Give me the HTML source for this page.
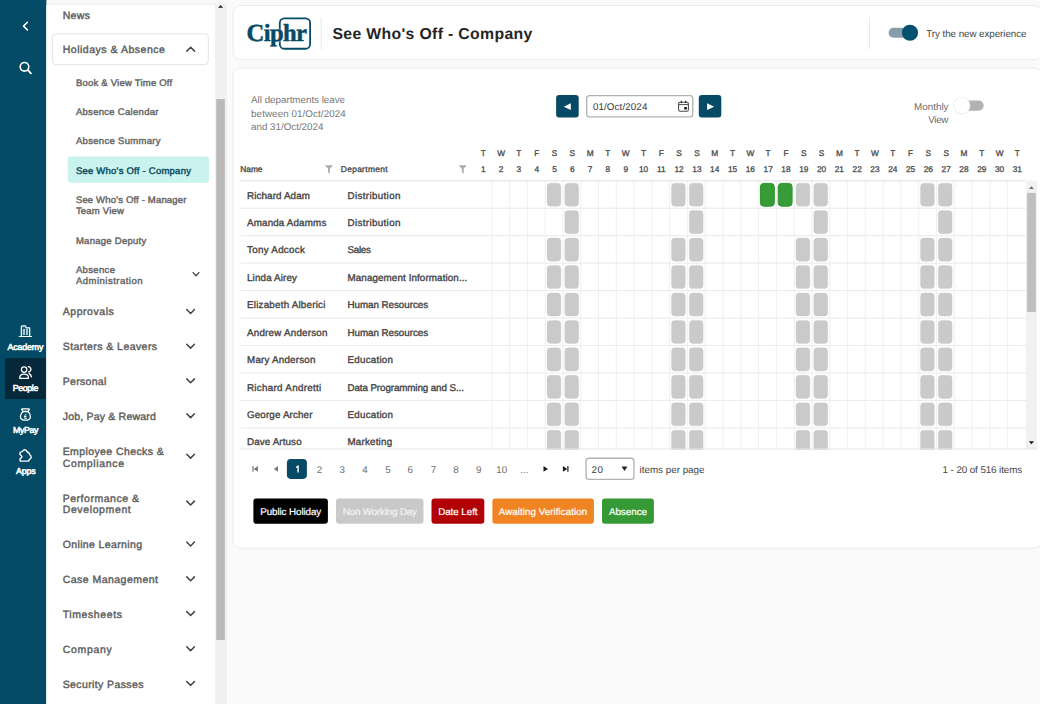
<!DOCTYPE html>
<html><head><meta charset="utf-8"><title>See Who's Off - Company</title>
<style>
*{box-sizing:border-box;margin:0;padding:0}
html,body{width:1040px;height:704px;overflow:hidden;background:#fafafa;font-family:"Liberation Sans",sans-serif;text-rendering:geometricPrecision}
div,svg{position:absolute}
.t{white-space:nowrap;line-height:1}
.b{font-weight:bold}
</style></head><body>
<svg style="left:0;top:0" width="1040" height="704" viewBox="0 0 1040 704">
<rect x="46.35" y="0.00" width="180.65" height="3.60" rx="0" fill="#f8f9fa"/>
<rect x="46.35" y="3.60" width="180.65" height="1.40" rx="0" fill="#f1f1f1"/>
<rect x="0.00" y="0.00" width="46.35" height="704.00" rx="0" fill="#024a65"/>
<rect x="5.10" y="358.10" width="40.70" height="40.90" rx="0" fill="#05283a"/>
<rect x="46.35" y="5.00" width="168.65" height="699.00" rx="0" fill="#fff"/>
<path d="M215 704 V4.6 H223.5 Q227 4.600 227 8 V704Z" fill="#f0f0f0"/>
<rect x="216.20" y="99.00" width="8.60" height="541.00" rx="0" fill="#bababa"/>
<rect x="52.40" y="33.80" width="155.90" height="30.90" rx="3.50" fill="#fff" stroke="#e3e3e3" stroke-width="1"/>
<rect x="67.80" y="156.60" width="141.30" height="26.10" rx="3" fill="#caf2ee"/>
<rect x="233.00" y="5.50" width="809.00" height="54.20" rx="8.00" fill="#fff" stroke="#ebebeb" stroke-width="1"/>
<rect x="279.8" y="18.3" width="30.3" height="30.45" rx="4.6" fill="none" stroke="#074a66" stroke-width="1.8"/>
<rect x="320.70" y="17.40" width="1.00" height="32.00" rx="0" fill="#e9e9e9"/>
<rect x="869.00" y="17.40" width="1.00" height="32.00" rx="0" fill="#e9e9e9"/>
<rect x="888.60" y="27.70" width="28.40" height="10.00" rx="5" fill="#869eac"/>
<circle cx="910" cy="32.75" r="8.05" fill="#04506e"/>
<rect x="233.00" y="68.00" width="809.00" height="480.10" rx="8.00" fill="#fff" stroke="#ebebeb" stroke-width="1"/>
<rect x="556.10" y="95.00" width="22.60" height="22.50" rx="3" fill="#074a66"/>
<rect x="698.80" y="95.00" width="22.50" height="22.50" rx="3" fill="#074a66"/>
<rect x="586.65" y="95.65" width="106.10" height="21.20" rx="2.85" fill="#fff" stroke="#b2b2b2" stroke-width="1.3"/>
<rect x="958.00" y="100.50" width="25.70" height="10.20" rx="5.1" fill="#b2b2b2"/>
<circle cx="961.8" cy="105.6" r="8.600" fill="#e3e3e3"/><circle cx="961.800" cy="105.600" r="8" fill="#fff"/>
<clipPath id="gc"><rect x="236" y="176" width="804" height="273.70"/></clipPath><g clip-path="url(#gc)">
<rect x="1026.00" y="180.80" width="10.90" height="268.30" rx="0" fill="#f1f1f1"/>
<rect x="1027.10" y="192.90" width="8.70" height="119.10" rx="0" fill="#bfbfbf"/>
<path d="M1029.0 189.0 L1031.4 186.3 L1033.800 189.0Z" fill="#6a6a6a"/><path d="M1028.9 441.3 L1031.45 444.2 L1034.0 441.300Z" fill="#111"/>
<rect x="491.29" y="180.80" width="1.10" height="268.30" rx="0" fill="#f1f1f1"/>
<rect x="509.07" y="180.80" width="1.10" height="268.30" rx="0" fill="#f1f1f1"/>
<rect x="526.86" y="180.80" width="1.10" height="268.30" rx="0" fill="#f1f1f1"/>
<rect x="544.64" y="180.80" width="1.10" height="268.30" rx="0" fill="#f1f1f1"/>
<rect x="562.43" y="180.80" width="1.10" height="268.30" rx="0" fill="#f1f1f1"/>
<rect x="580.21" y="180.80" width="1.10" height="268.30" rx="0" fill="#f1f1f1"/>
<rect x="598.00" y="180.80" width="1.10" height="268.30" rx="0" fill="#f1f1f1"/>
<rect x="615.78" y="180.80" width="1.10" height="268.30" rx="0" fill="#f1f1f1"/>
<rect x="633.57" y="180.80" width="1.10" height="268.30" rx="0" fill="#f1f1f1"/>
<rect x="651.35" y="180.80" width="1.10" height="268.30" rx="0" fill="#f1f1f1"/>
<rect x="669.13" y="180.80" width="1.10" height="268.30" rx="0" fill="#f1f1f1"/>
<rect x="686.92" y="180.80" width="1.10" height="268.30" rx="0" fill="#f1f1f1"/>
<rect x="704.71" y="180.80" width="1.10" height="268.30" rx="0" fill="#f1f1f1"/>
<rect x="722.49" y="180.80" width="1.10" height="268.30" rx="0" fill="#f1f1f1"/>
<rect x="740.28" y="180.80" width="1.10" height="268.30" rx="0" fill="#f1f1f1"/>
<rect x="758.06" y="180.80" width="1.10" height="268.30" rx="0" fill="#f1f1f1"/>
<rect x="775.85" y="180.80" width="1.10" height="268.30" rx="0" fill="#f1f1f1"/>
<rect x="793.63" y="180.80" width="1.10" height="268.30" rx="0" fill="#f1f1f1"/>
<rect x="811.42" y="180.80" width="1.10" height="268.30" rx="0" fill="#f1f1f1"/>
<rect x="829.20" y="180.80" width="1.10" height="268.30" rx="0" fill="#f1f1f1"/>
<rect x="846.99" y="180.80" width="1.10" height="268.30" rx="0" fill="#f1f1f1"/>
<rect x="864.77" y="180.80" width="1.10" height="268.30" rx="0" fill="#f1f1f1"/>
<rect x="882.56" y="180.80" width="1.10" height="268.30" rx="0" fill="#f1f1f1"/>
<rect x="900.34" y="180.80" width="1.10" height="268.30" rx="0" fill="#f1f1f1"/>
<rect x="918.12" y="180.80" width="1.10" height="268.30" rx="0" fill="#f1f1f1"/>
<rect x="935.91" y="180.80" width="1.10" height="268.30" rx="0" fill="#f1f1f1"/>
<rect x="953.70" y="180.80" width="1.10" height="268.30" rx="0" fill="#f1f1f1"/>
<rect x="971.48" y="180.80" width="1.10" height="268.30" rx="0" fill="#f1f1f1"/>
<rect x="989.27" y="180.80" width="1.10" height="268.30" rx="0" fill="#f1f1f1"/>
<rect x="1007.05" y="180.80" width="1.10" height="268.30" rx="0" fill="#f1f1f1"/>
<rect x="240.30" y="180.20" width="785.70" height="1.20" rx="0" fill="#e6e6e6"/>
<rect x="240.30" y="207.70" width="785.70" height="1.10" rx="0" fill="#ececec"/>
<rect x="547.04" y="183.15" width="13.8" height="23.1" rx="3.4" fill="#cacaca" stroke="#c5c5c5" stroke-width="0.3"/>
<rect x="564.83" y="183.15" width="13.8" height="23.1" rx="3.4" fill="#cacaca" stroke="#c5c5c5" stroke-width="0.3"/>
<rect x="671.53" y="183.15" width="13.8" height="23.1" rx="3.4" fill="#cacaca" stroke="#c5c5c5" stroke-width="0.3"/>
<rect x="689.32" y="183.15" width="13.8" height="23.1" rx="3.4" fill="#cacaca" stroke="#c5c5c5" stroke-width="0.3"/>
<rect x="796.03" y="183.15" width="13.8" height="23.1" rx="3.4" fill="#cacaca" stroke="#c5c5c5" stroke-width="0.3"/>
<rect x="813.82" y="183.15" width="13.8" height="23.1" rx="3.4" fill="#cacaca" stroke="#c5c5c5" stroke-width="0.3"/>
<rect x="920.52" y="183.15" width="13.8" height="23.1" rx="3.4" fill="#cacaca" stroke="#c5c5c5" stroke-width="0.3"/>
<rect x="938.31" y="183.15" width="13.8" height="23.1" rx="3.4" fill="#cacaca" stroke="#c5c5c5" stroke-width="0.3"/>
<rect x="760.41" y="183.40" width="13.9" height="22.8" rx="3.4" fill="#379b37" stroke="#2a952a" stroke-width="1"/>
<rect x="778.19" y="183.40" width="13.9" height="22.8" rx="3.4" fill="#379b37" stroke="#2a952a" stroke-width="1"/>
<rect x="240.30" y="235.15" width="785.70" height="1.10" rx="0" fill="#ececec"/>
<rect x="564.83" y="210.60" width="13.8" height="23.1" rx="3.4" fill="#cacaca" stroke="#c5c5c5" stroke-width="0.3"/>
<rect x="689.32" y="210.60" width="13.8" height="23.1" rx="3.4" fill="#cacaca" stroke="#c5c5c5" stroke-width="0.3"/>
<rect x="813.82" y="210.60" width="13.8" height="23.1" rx="3.4" fill="#cacaca" stroke="#c5c5c5" stroke-width="0.3"/>
<rect x="938.31" y="210.60" width="13.8" height="23.1" rx="3.4" fill="#cacaca" stroke="#c5c5c5" stroke-width="0.3"/>
<rect x="240.30" y="262.60" width="785.70" height="1.10" rx="0" fill="#ececec"/>
<rect x="547.04" y="238.05" width="13.8" height="23.1" rx="3.4" fill="#cacaca" stroke="#c5c5c5" stroke-width="0.3"/>
<rect x="564.83" y="238.05" width="13.8" height="23.1" rx="3.4" fill="#cacaca" stroke="#c5c5c5" stroke-width="0.3"/>
<rect x="671.53" y="238.05" width="13.8" height="23.1" rx="3.4" fill="#cacaca" stroke="#c5c5c5" stroke-width="0.3"/>
<rect x="689.32" y="238.05" width="13.8" height="23.1" rx="3.4" fill="#cacaca" stroke="#c5c5c5" stroke-width="0.3"/>
<rect x="796.03" y="238.05" width="13.8" height="23.1" rx="3.4" fill="#cacaca" stroke="#c5c5c5" stroke-width="0.3"/>
<rect x="813.82" y="238.05" width="13.8" height="23.1" rx="3.4" fill="#cacaca" stroke="#c5c5c5" stroke-width="0.3"/>
<rect x="920.52" y="238.05" width="13.8" height="23.1" rx="3.4" fill="#cacaca" stroke="#c5c5c5" stroke-width="0.3"/>
<rect x="938.31" y="238.05" width="13.8" height="23.1" rx="3.4" fill="#cacaca" stroke="#c5c5c5" stroke-width="0.3"/>
<rect x="240.30" y="290.05" width="785.70" height="1.10" rx="0" fill="#ececec"/>
<rect x="547.04" y="265.50" width="13.8" height="23.1" rx="3.4" fill="#cacaca" stroke="#c5c5c5" stroke-width="0.3"/>
<rect x="564.83" y="265.50" width="13.8" height="23.1" rx="3.4" fill="#cacaca" stroke="#c5c5c5" stroke-width="0.3"/>
<rect x="671.53" y="265.50" width="13.8" height="23.1" rx="3.4" fill="#cacaca" stroke="#c5c5c5" stroke-width="0.3"/>
<rect x="689.32" y="265.50" width="13.8" height="23.1" rx="3.4" fill="#cacaca" stroke="#c5c5c5" stroke-width="0.3"/>
<rect x="796.03" y="265.50" width="13.8" height="23.1" rx="3.4" fill="#cacaca" stroke="#c5c5c5" stroke-width="0.3"/>
<rect x="813.82" y="265.50" width="13.8" height="23.1" rx="3.4" fill="#cacaca" stroke="#c5c5c5" stroke-width="0.3"/>
<rect x="920.52" y="265.50" width="13.8" height="23.1" rx="3.4" fill="#cacaca" stroke="#c5c5c5" stroke-width="0.3"/>
<rect x="938.31" y="265.50" width="13.8" height="23.1" rx="3.4" fill="#cacaca" stroke="#c5c5c5" stroke-width="0.3"/>
<rect x="240.30" y="317.50" width="785.70" height="1.10" rx="0" fill="#ececec"/>
<rect x="547.04" y="292.95" width="13.8" height="23.1" rx="3.4" fill="#cacaca" stroke="#c5c5c5" stroke-width="0.3"/>
<rect x="564.83" y="292.95" width="13.8" height="23.1" rx="3.4" fill="#cacaca" stroke="#c5c5c5" stroke-width="0.3"/>
<rect x="671.53" y="292.95" width="13.8" height="23.1" rx="3.4" fill="#cacaca" stroke="#c5c5c5" stroke-width="0.3"/>
<rect x="689.32" y="292.95" width="13.8" height="23.1" rx="3.4" fill="#cacaca" stroke="#c5c5c5" stroke-width="0.3"/>
<rect x="796.03" y="292.95" width="13.8" height="23.1" rx="3.4" fill="#cacaca" stroke="#c5c5c5" stroke-width="0.3"/>
<rect x="813.82" y="292.95" width="13.8" height="23.1" rx="3.4" fill="#cacaca" stroke="#c5c5c5" stroke-width="0.3"/>
<rect x="920.52" y="292.95" width="13.8" height="23.1" rx="3.4" fill="#cacaca" stroke="#c5c5c5" stroke-width="0.3"/>
<rect x="938.31" y="292.95" width="13.8" height="23.1" rx="3.4" fill="#cacaca" stroke="#c5c5c5" stroke-width="0.3"/>
<rect x="240.30" y="344.95" width="785.70" height="1.10" rx="0" fill="#ececec"/>
<rect x="547.04" y="320.40" width="13.8" height="23.1" rx="3.4" fill="#cacaca" stroke="#c5c5c5" stroke-width="0.3"/>
<rect x="564.83" y="320.40" width="13.8" height="23.1" rx="3.4" fill="#cacaca" stroke="#c5c5c5" stroke-width="0.3"/>
<rect x="671.53" y="320.40" width="13.8" height="23.1" rx="3.4" fill="#cacaca" stroke="#c5c5c5" stroke-width="0.3"/>
<rect x="689.32" y="320.40" width="13.8" height="23.1" rx="3.4" fill="#cacaca" stroke="#c5c5c5" stroke-width="0.3"/>
<rect x="796.03" y="320.40" width="13.8" height="23.1" rx="3.4" fill="#cacaca" stroke="#c5c5c5" stroke-width="0.3"/>
<rect x="813.82" y="320.40" width="13.8" height="23.1" rx="3.4" fill="#cacaca" stroke="#c5c5c5" stroke-width="0.3"/>
<rect x="920.52" y="320.40" width="13.8" height="23.1" rx="3.4" fill="#cacaca" stroke="#c5c5c5" stroke-width="0.3"/>
<rect x="938.31" y="320.40" width="13.8" height="23.1" rx="3.4" fill="#cacaca" stroke="#c5c5c5" stroke-width="0.3"/>
<rect x="240.30" y="372.40" width="785.70" height="1.10" rx="0" fill="#ececec"/>
<rect x="547.04" y="347.85" width="13.8" height="23.1" rx="3.4" fill="#cacaca" stroke="#c5c5c5" stroke-width="0.3"/>
<rect x="564.83" y="347.85" width="13.8" height="23.1" rx="3.4" fill="#cacaca" stroke="#c5c5c5" stroke-width="0.3"/>
<rect x="671.53" y="347.85" width="13.8" height="23.1" rx="3.4" fill="#cacaca" stroke="#c5c5c5" stroke-width="0.3"/>
<rect x="689.32" y="347.85" width="13.8" height="23.1" rx="3.4" fill="#cacaca" stroke="#c5c5c5" stroke-width="0.3"/>
<rect x="796.03" y="347.85" width="13.8" height="23.1" rx="3.4" fill="#cacaca" stroke="#c5c5c5" stroke-width="0.3"/>
<rect x="813.82" y="347.85" width="13.8" height="23.1" rx="3.4" fill="#cacaca" stroke="#c5c5c5" stroke-width="0.3"/>
<rect x="920.52" y="347.85" width="13.8" height="23.1" rx="3.4" fill="#cacaca" stroke="#c5c5c5" stroke-width="0.3"/>
<rect x="938.31" y="347.85" width="13.8" height="23.1" rx="3.4" fill="#cacaca" stroke="#c5c5c5" stroke-width="0.3"/>
<rect x="240.30" y="399.85" width="785.70" height="1.10" rx="0" fill="#ececec"/>
<rect x="547.04" y="375.30" width="13.8" height="23.1" rx="3.4" fill="#cacaca" stroke="#c5c5c5" stroke-width="0.3"/>
<rect x="564.83" y="375.30" width="13.8" height="23.1" rx="3.4" fill="#cacaca" stroke="#c5c5c5" stroke-width="0.3"/>
<rect x="671.53" y="375.30" width="13.8" height="23.1" rx="3.4" fill="#cacaca" stroke="#c5c5c5" stroke-width="0.3"/>
<rect x="689.32" y="375.30" width="13.8" height="23.1" rx="3.4" fill="#cacaca" stroke="#c5c5c5" stroke-width="0.3"/>
<rect x="796.03" y="375.30" width="13.8" height="23.1" rx="3.4" fill="#cacaca" stroke="#c5c5c5" stroke-width="0.3"/>
<rect x="813.82" y="375.30" width="13.8" height="23.1" rx="3.4" fill="#cacaca" stroke="#c5c5c5" stroke-width="0.3"/>
<rect x="920.52" y="375.30" width="13.8" height="23.1" rx="3.4" fill="#cacaca" stroke="#c5c5c5" stroke-width="0.3"/>
<rect x="938.31" y="375.30" width="13.8" height="23.1" rx="3.4" fill="#cacaca" stroke="#c5c5c5" stroke-width="0.3"/>
<rect x="240.30" y="427.30" width="785.70" height="1.10" rx="0" fill="#ececec"/>
<rect x="547.04" y="402.75" width="13.8" height="23.1" rx="3.4" fill="#cacaca" stroke="#c5c5c5" stroke-width="0.3"/>
<rect x="564.83" y="402.75" width="13.8" height="23.1" rx="3.4" fill="#cacaca" stroke="#c5c5c5" stroke-width="0.3"/>
<rect x="671.53" y="402.75" width="13.8" height="23.1" rx="3.4" fill="#cacaca" stroke="#c5c5c5" stroke-width="0.3"/>
<rect x="689.32" y="402.75" width="13.8" height="23.1" rx="3.4" fill="#cacaca" stroke="#c5c5c5" stroke-width="0.3"/>
<rect x="796.03" y="402.75" width="13.8" height="23.1" rx="3.4" fill="#cacaca" stroke="#c5c5c5" stroke-width="0.3"/>
<rect x="813.82" y="402.75" width="13.8" height="23.1" rx="3.4" fill="#cacaca" stroke="#c5c5c5" stroke-width="0.3"/>
<rect x="920.52" y="402.75" width="13.8" height="23.1" rx="3.4" fill="#cacaca" stroke="#c5c5c5" stroke-width="0.3"/>
<rect x="938.31" y="402.75" width="13.8" height="23.1" rx="3.4" fill="#cacaca" stroke="#c5c5c5" stroke-width="0.3"/>
<rect x="547.04" y="430.20" width="13.8" height="23.1" rx="3.4" fill="#cacaca" stroke="#c5c5c5" stroke-width="0.3"/>
<rect x="564.83" y="430.20" width="13.8" height="23.1" rx="3.4" fill="#cacaca" stroke="#c5c5c5" stroke-width="0.3"/>
<rect x="671.53" y="430.20" width="13.8" height="23.1" rx="3.4" fill="#cacaca" stroke="#c5c5c5" stroke-width="0.3"/>
<rect x="689.32" y="430.20" width="13.8" height="23.1" rx="3.4" fill="#cacaca" stroke="#c5c5c5" stroke-width="0.3"/>
<rect x="796.03" y="430.20" width="13.8" height="23.1" rx="3.4" fill="#cacaca" stroke="#c5c5c5" stroke-width="0.3"/>
<rect x="813.82" y="430.20" width="13.8" height="23.1" rx="3.4" fill="#cacaca" stroke="#c5c5c5" stroke-width="0.3"/>
<rect x="920.52" y="430.20" width="13.8" height="23.1" rx="3.4" fill="#cacaca" stroke="#c5c5c5" stroke-width="0.3"/>
<rect x="938.31" y="430.20" width="13.8" height="23.1" rx="3.4" fill="#cacaca" stroke="#c5c5c5" stroke-width="0.3"/>
<rect x="240.30" y="448.50" width="796.70" height="1.20" rx="0" fill="#e6e6e6"/>
</g>
<rect x="286.90" y="458.90" width="20.00" height="20.00" rx="3.8" fill="#074a66"/>
<rect x="586.05" y="458.25" width="47.90" height="21.10" rx="2.85" fill="#fff" stroke="#b2b2b2" stroke-width="1.3"/>
<rect x="253.40" y="498.50" width="74.50" height="25.30" rx="3" fill="#000"/>
<rect x="336.00" y="498.50" width="87.50" height="25.30" rx="3" fill="#c9c9c9"/>
<rect x="431.50" y="498.50" width="52.80" height="25.30" rx="3" fill="#b10006"/>
<rect x="492.40" y="498.50" width="101.50" height="25.30" rx="3" fill="#f08322"/>
<rect x="602.00" y="498.50" width="51.90" height="25.30" rx="3" fill="#359a35"/>
<path d="M27.4 22.300 L23.500 26.100 L27.400 29.900" fill="none" stroke="#fff" stroke-linecap="round" stroke-linejoin="round" stroke-width="1.5"/>
<circle cx="24.500" cy="66.800" r="4.300" fill="none" stroke="#fff" stroke-linecap="round" stroke-linejoin="round" stroke-width="1.6"/><path d="M27.900 70.200 L30.900 73.300" fill="none" stroke="#fff" stroke-linecap="round" stroke-linejoin="round" stroke-width="1.9"/>
<path d="M19.3 336.5 H31.6" fill="none" stroke="#fff" stroke-linecap="round" stroke-linejoin="round" stroke-width="1.2"/><path d="M21.3 336.3 V327 L21.9 325.9 H25.5 L26.1 327.8 H29.7 V336.3" fill="none" stroke="#fff" stroke-linecap="round" stroke-linejoin="round" stroke-width="1.2"/><rect x="22.8" y="328.8" width="2.2" height="6.3" fill="#a9c4ce"/><rect x="25.9" y="328.8" width="2.2" height="6.3" fill="#a9c4ce"/><rect x="23" y="326.500" width="1.6" height="1" fill="#7fa5b4"/>
<g fill="none" stroke="#fff" stroke-linecap="round" stroke-linejoin="round" stroke-width="1.3"><circle cx="24.1" cy="369.6" r="2.7"/><path d="M19.8 378.4 V377.6 C19.8 375.4 21.6 374.1 24.1 374.1 C26.6 374.1 28.4 375.4 28.4 377.6 V378.4 Z"/><path d="M28.3 366.7 C31.4 367 31.8 371.2 28.7 372"/><path d="M29.1 373.6 C30.4 374.3 31.2 375.4 31.4 376.9"/></g>
<g fill="none" stroke="#fff" stroke-linecap="round" stroke-linejoin="round" stroke-width="1.3"><path d="M22.1 408.8 H28.9 C29.4 408.8 29.4 409.5 29 409.9 L27.900 411.5 H23.1 L22 409.9 C21.6 409.5 21.6 408.8 22.1 408.8 Z"/><path d="M23.1 411.6 C21.3 412.8 20.4 414.6 20.4 416.4 C20.4 419 22.5 420.2 25.5 420.2 C28.5 420.2 30.4 419 30.4 416.4 C30.4 414.6 29.7 412.8 27.9 411.600"/><path d="M26.3 414.7 C25.5 414.2 24.7 414.7 24.9 415.7 C25.1 416.7 25.1 417.5 24.4 418.3 H26.6 M24.3 416.5 H26.1" stroke-width="0.9"/></g>
<path fill="none" stroke="#fff" stroke-linecap="round" stroke-linejoin="round" stroke-width="1.4" d="M20.3 461.1 H28.3 C28.9 460.4 29.3 459.7 29.9 459.1 C31.6 458.6 31.6 455.6 29.8 454.8 C29.6 454 29.4 453.3 28.8 452.7 C27.6 452.5 27.2 451.8 26.7 451.1 C25.8 449.3 23.5 449.3 22.7 451.1 C22.2 451.8 21.4 452 20.4 452.1 C19.9 452.9 19.8 453.7 20 454.6 C20.7 455.3 21.8 455.8 22 456.7 C21.8 457.6 20.8 458 20.2 458.6 C19.9 459.4 19.9 460.3 20.3 461.100 Z"/>
<path d="M218.1 7.7 L220.600 5.100 L223.100 7.700Z" fill="#222"/>
<path d="M186.85 51.15 L190.70 47.25 L194.55 51.15" fill="none" stroke="#444" stroke-width="1.5" stroke-linecap="round" stroke-linejoin="round"/>
<path d="M193.10 272.60 L196.00 275.80 L198.90 272.60" fill="none" stroke="#444" stroke-width="1.3" stroke-linecap="round" stroke-linejoin="round"/>
<path d="M186.75 309.55 L190.60 313.45 L194.45 309.55" fill="none" stroke="#444" stroke-width="1.5" stroke-linecap="round" stroke-linejoin="round"/>
<path d="M186.75 344.25 L190.60 348.15 L194.45 344.25" fill="none" stroke="#444" stroke-width="1.5" stroke-linecap="round" stroke-linejoin="round"/>
<path d="M186.75 378.85 L190.60 382.75 L194.45 378.85" fill="none" stroke="#444" stroke-width="1.5" stroke-linecap="round" stroke-linejoin="round"/>
<path d="M186.75 413.75 L190.60 417.65 L194.45 413.75" fill="none" stroke="#444" stroke-width="1.5" stroke-linecap="round" stroke-linejoin="round"/>
<path d="M186.75 454.25 L190.60 458.15 L194.45 454.25" fill="none" stroke="#444" stroke-width="1.5" stroke-linecap="round" stroke-linejoin="round"/>
<path d="M186.75 501.15 L190.60 505.05 L194.45 501.15" fill="none" stroke="#444" stroke-width="1.5" stroke-linecap="round" stroke-linejoin="round"/>
<path d="M186.75 542.05 L190.60 545.95 L194.45 542.05" fill="none" stroke="#444" stroke-width="1.5" stroke-linecap="round" stroke-linejoin="round"/>
<path d="M186.75 576.85 L190.60 580.75 L194.45 576.85" fill="none" stroke="#444" stroke-width="1.5" stroke-linecap="round" stroke-linejoin="round"/>
<path d="M186.75 611.65 L190.60 615.55 L194.45 611.65" fill="none" stroke="#444" stroke-width="1.5" stroke-linecap="round" stroke-linejoin="round"/>
<path d="M186.75 646.75 L190.60 650.65 L194.45 646.75" fill="none" stroke="#444" stroke-width="1.5" stroke-linecap="round" stroke-linejoin="round"/>
<path d="M186.75 681.45 L190.60 685.35 L194.45 681.45" fill="none" stroke="#444" stroke-width="1.5" stroke-linecap="round" stroke-linejoin="round"/>
<path d="M570.800 103.200 V110.100 L563.800 106.650Z" fill="#fff"/><path d="M707.100 103.200 V110.100 L714.100 106.650Z" fill="#fff"/>
<rect x="678.6" y="102.2" width="9.8" height="9.1" rx="1.5" fill="none" stroke="#4a4a4a" stroke-width="1.05"/><path d="M678.6 104.6 H688.4" stroke="#4a4a4a" stroke-width="1"/><path d="M681.4 101.2 V102.6 M685.6 101.2 V102.600" stroke="#333" stroke-width="1.3" stroke-linecap="round"/><rect x="684.2" y="107" width="2.7" height="2.6" rx="0.5" fill="#1a1a1a"/>
<path d="M324.9 165.200 H333.0 L329.9 168.700 V173.600 L328.09999999999997 172.400 V168.700 Z" fill="#ababab"/>
<path d="M458.7 165.200 H466.8 L463.7 168.700 V173.600 L461.9 172.400 V168.700 Z" fill="#ababab"/>
<path d="M252.4 466.1 H253.600 V471.8 H252.400Z M257.900 466.100 V471.800 L253.700 468.950Z" fill="#777"/>
<path d="M278.000 466.100 V471.700 L273.900 468.900Z" fill="#777"/>
<path d="M543.500 466.100 V471.800 L548.000 468.950Z" fill="#1a1a1a"/>
<path d="M568.500 466.100 H567.300 V471.800 H568.500Z M562.900 466.100 V471.800 L567.200 468.950Z" fill="#1a1a1a"/>
<path d="M295.900 467.100 L297.600 465.500 H298.800 V472.500 H297.400 V467.300 L296.300 468.300 Z" fill="#fff"/>
<path d="M621.600 466.600 L624.500 470.900 L627.400 466.600Z" fill="#222"/>
</svg>
<div class="t" style="top:343px;font-size:8.8px;color:#fff;letter-spacing:-0.114px;left:7.50px;-webkit-text-stroke:0.55px #fff;">Academy</div>
<div class="t" style="top:384px;font-size:8.8px;color:#fff;letter-spacing:-0.340px;left:12.70px;-webkit-text-stroke:0.55px #fff;">People</div>
<div class="t" style="top:426px;font-size:8.8px;color:#fff;letter-spacing:-0.374px;left:13.00px;-webkit-text-stroke:0.55px #fff;">MyPay</div>
<div class="t" style="top:467px;font-size:8.8px;color:#fff;letter-spacing:-0.119px;left:15.90px;-webkit-text-stroke:0.55px #fff;">Apps</div>
<div class="t" style="top:11px;font-size:10.5px;color:#5e5e5e;letter-spacing:0.348px;left:62.70px;-webkit-text-stroke:0.42px #5e5e5e;">News</div>
<div class="t" style="top:45px;font-size:10.5px;color:#5e5e5e;letter-spacing:0.518px;left:62.70px;-webkit-text-stroke:0.42px #5e5e5e;">Holidays &amp; Absence</div>
<div class="t" style="top:79px;font-size:9.5px;color:#666;letter-spacing:0.224px;left:75.90px;-webkit-text-stroke:0.42px #666;">Book &amp; View Time Off</div>
<div class="t" style="top:108px;font-size:9.5px;color:#666;letter-spacing:0.296px;left:75.90px;-webkit-text-stroke:0.42px #666;">Absence Calendar</div>
<div class="t" style="top:137px;font-size:9.5px;color:#666;letter-spacing:0.318px;left:75.90px;-webkit-text-stroke:0.42px #666;">Absence Summary</div>
<div class="t" style="top:196px;font-size:9.5px;color:#666;letter-spacing:0.172px;left:75.90px;-webkit-text-stroke:0.42px #666;">See Who's Off - Manager</div>
<div class="t" style="top:207px;font-size:9.5px;color:#666;letter-spacing:0.214px;left:75.90px;-webkit-text-stroke:0.42px #666;">Team View</div>
<div class="t" style="top:237px;font-size:9.5px;color:#666;letter-spacing:0.277px;left:75.90px;-webkit-text-stroke:0.42px #666;">Manage Deputy</div>
<div class="t" style="top:266px;font-size:9.5px;color:#666;letter-spacing:0.355px;left:75.90px;-webkit-text-stroke:0.42px #666;">Absence</div>
<div class="t" style="top:277px;font-size:9.5px;color:#666;letter-spacing:0.493px;left:75.90px;-webkit-text-stroke:0.42px #666;">Administration</div>
<div class="t" style="top:167px;font-size:9.5px;color:#0b4a5c;letter-spacing:0.233px;left:75.90px;-webkit-text-stroke:0.42px #0b4a5c;">See Who's Off - Company</div>
<div class="t" style="top:307px;font-size:10.5px;color:#5e5e5e;letter-spacing:0.551px;left:62.70px;-webkit-text-stroke:0.42px #5e5e5e;">Approvals</div>
<div class="t" style="top:342px;font-size:10.5px;color:#5e5e5e;letter-spacing:0.438px;left:62.70px;-webkit-text-stroke:0.42px #5e5e5e;">Starters &amp; Leavers</div>
<div class="t" style="top:377px;font-size:10.5px;color:#5e5e5e;letter-spacing:0.308px;left:62.70px;-webkit-text-stroke:0.42px #5e5e5e;">Personal</div>
<div class="t" style="top:412px;font-size:10.5px;color:#5e5e5e;letter-spacing:0.202px;left:62.70px;-webkit-text-stroke:0.42px #5e5e5e;">Job, Pay &amp; Reward</div>
<div class="t" style="top:447px;font-size:10.5px;color:#5e5e5e;letter-spacing:0.404px;left:62.70px;-webkit-text-stroke:0.42px #5e5e5e;">Employee Checks &amp;</div>
<div class="t" style="top:459px;font-size:10.5px;color:#5e5e5e;letter-spacing:0.651px;left:62.70px;-webkit-text-stroke:0.42px #5e5e5e;">Compliance</div>
<div class="t" style="top:494px;font-size:10.5px;color:#5e5e5e;letter-spacing:0.523px;left:62.70px;-webkit-text-stroke:0.42px #5e5e5e;">Performance &amp;</div>
<div class="t" style="top:505px;font-size:10.5px;color:#5e5e5e;letter-spacing:0.623px;left:62.70px;-webkit-text-stroke:0.42px #5e5e5e;">Development</div>
<div class="t" style="top:540px;font-size:10.5px;color:#5e5e5e;letter-spacing:0.369px;left:62.70px;-webkit-text-stroke:0.42px #5e5e5e;">Online Learning</div>
<div class="t" style="top:575px;font-size:10.5px;color:#5e5e5e;letter-spacing:0.470px;left:62.70px;-webkit-text-stroke:0.42px #5e5e5e;">Case Management</div>
<div class="t" style="top:610px;font-size:10.5px;color:#5e5e5e;letter-spacing:0.591px;left:62.70px;-webkit-text-stroke:0.42px #5e5e5e;">Timesheets</div>
<div class="t" style="top:645px;font-size:10.5px;color:#5e5e5e;letter-spacing:0.677px;left:62.70px;-webkit-text-stroke:0.42px #5e5e5e;">Company</div>
<div class="t" style="top:680px;font-size:10.5px;color:#5e5e5e;letter-spacing:0.387px;left:62.70px;-webkit-text-stroke:0.42px #5e5e5e;">Security Passes</div>
<div class="t b" style="left:246.6px;top:22px;font-family:'Liberation Serif',serif;font-size:24.6px;letter-spacing:-0.645px;color:#074a66;-webkit-text-stroke:0.5px #074a66;text-shadow:0 0 1.5px #fff,0 0 1.5px #fff">Ciphr</div>
<div class="t b" style="top:27px;font-size:15.8px;color:#252525;letter-spacing:0.341px;left:332.40px;">See Who's Off - Company</div>
<div class="t" style="top:30px;font-size:9.8px;color:#444;letter-spacing:-0.062px;left:926.30px;">Try the new experience</div>
<div class="t" style="top:96px;font-size:9.8px;color:#787878;letter-spacing:-0.012px;left:251.10px;">All departments leave</div>
<div class="t" style="top:110px;font-size:9.8px;color:#787878;letter-spacing:0.080px;left:251.10px;">between 01/Oct/2024</div>
<div class="t" style="top:123px;font-size:9.8px;color:#787878;letter-spacing:-0.012px;left:251.10px;">and 31/Oct/2024</div>
<div class="t" style="top:103px;font-size:9.8px;color:#3a3a3a;letter-spacing:0.111px;left:592.90px;">01/Oct/2024</div>
<div class="t" style="top:103px;font-size:9.8px;color:#6a6a6a;letter-spacing:0.014px;right:91.49px;">Monthly</div>
<div class="t" style="top:116px;font-size:9.8px;color:#6a6a6a;letter-spacing:-0.288px;right:91.89px;">View</div>
<div class="t" style="left:473.30px;width:20px;text-align:center;top:149px;font-size:8.3px;color:#4c4c4c;-webkit-text-stroke:0.3px #4c4c4c;">T</div>
<div class="t" style="left:473.30px;width:20px;text-align:center;top:165px;font-size:8.3px;color:#4c4c4c;-webkit-text-stroke:0.3px #4c4c4c;">1</div>
<div class="t" style="left:491.10px;width:20px;text-align:center;top:149px;font-size:8.3px;color:#4c4c4c;-webkit-text-stroke:0.3px #4c4c4c;">W</div>
<div class="t" style="left:491.10px;width:20px;text-align:center;top:165px;font-size:8.3px;color:#4c4c4c;-webkit-text-stroke:0.3px #4c4c4c;">2</div>
<div class="t" style="left:508.91px;width:20px;text-align:center;top:149px;font-size:8.3px;color:#4c4c4c;-webkit-text-stroke:0.3px #4c4c4c;">T</div>
<div class="t" style="left:508.91px;width:20px;text-align:center;top:165px;font-size:8.3px;color:#4c4c4c;-webkit-text-stroke:0.3px #4c4c4c;">3</div>
<div class="t" style="left:526.71px;width:20px;text-align:center;top:149px;font-size:8.3px;color:#4c4c4c;-webkit-text-stroke:0.3px #4c4c4c;">F</div>
<div class="t" style="left:526.71px;width:20px;text-align:center;top:165px;font-size:8.3px;color:#4c4c4c;-webkit-text-stroke:0.3px #4c4c4c;">4</div>
<div class="t" style="left:544.51px;width:20px;text-align:center;top:149px;font-size:8.3px;color:#4c4c4c;-webkit-text-stroke:0.3px #4c4c4c;">S</div>
<div class="t" style="left:544.51px;width:20px;text-align:center;top:165px;font-size:8.3px;color:#4c4c4c;-webkit-text-stroke:0.3px #4c4c4c;">5</div>
<div class="t" style="left:562.32px;width:20px;text-align:center;top:149px;font-size:8.3px;color:#4c4c4c;-webkit-text-stroke:0.3px #4c4c4c;">S</div>
<div class="t" style="left:562.32px;width:20px;text-align:center;top:165px;font-size:8.3px;color:#4c4c4c;-webkit-text-stroke:0.3px #4c4c4c;">6</div>
<div class="t" style="left:580.12px;width:20px;text-align:center;top:149px;font-size:8.3px;color:#4c4c4c;-webkit-text-stroke:0.3px #4c4c4c;">M</div>
<div class="t" style="left:580.12px;width:20px;text-align:center;top:165px;font-size:8.3px;color:#4c4c4c;-webkit-text-stroke:0.3px #4c4c4c;">7</div>
<div class="t" style="left:597.92px;width:20px;text-align:center;top:149px;font-size:8.3px;color:#4c4c4c;-webkit-text-stroke:0.3px #4c4c4c;">T</div>
<div class="t" style="left:597.92px;width:20px;text-align:center;top:165px;font-size:8.3px;color:#4c4c4c;-webkit-text-stroke:0.3px #4c4c4c;">8</div>
<div class="t" style="left:615.72px;width:20px;text-align:center;top:149px;font-size:8.3px;color:#4c4c4c;-webkit-text-stroke:0.3px #4c4c4c;">W</div>
<div class="t" style="left:615.72px;width:20px;text-align:center;top:165px;font-size:8.3px;color:#4c4c4c;-webkit-text-stroke:0.3px #4c4c4c;">9</div>
<div class="t" style="left:633.53px;width:20px;text-align:center;top:149px;font-size:8.3px;color:#4c4c4c;-webkit-text-stroke:0.3px #4c4c4c;">T</div>
<div class="t" style="left:633.53px;width:20px;text-align:center;top:165px;font-size:8.3px;color:#4c4c4c;-webkit-text-stroke:0.3px #4c4c4c;">10</div>
<div class="t" style="left:651.33px;width:20px;text-align:center;top:149px;font-size:8.3px;color:#4c4c4c;-webkit-text-stroke:0.3px #4c4c4c;">F</div>
<div class="t" style="left:651.33px;width:20px;text-align:center;top:165px;font-size:8.3px;color:#4c4c4c;-webkit-text-stroke:0.3px #4c4c4c;">11</div>
<div class="t" style="left:669.13px;width:20px;text-align:center;top:149px;font-size:8.3px;color:#4c4c4c;-webkit-text-stroke:0.3px #4c4c4c;">S</div>
<div class="t" style="left:669.13px;width:20px;text-align:center;top:165px;font-size:8.3px;color:#4c4c4c;-webkit-text-stroke:0.3px #4c4c4c;">12</div>
<div class="t" style="left:686.94px;width:20px;text-align:center;top:149px;font-size:8.3px;color:#4c4c4c;-webkit-text-stroke:0.3px #4c4c4c;">S</div>
<div class="t" style="left:686.94px;width:20px;text-align:center;top:165px;font-size:8.3px;color:#4c4c4c;-webkit-text-stroke:0.3px #4c4c4c;">13</div>
<div class="t" style="left:704.74px;width:20px;text-align:center;top:149px;font-size:8.3px;color:#4c4c4c;-webkit-text-stroke:0.3px #4c4c4c;">M</div>
<div class="t" style="left:704.74px;width:20px;text-align:center;top:165px;font-size:8.3px;color:#4c4c4c;-webkit-text-stroke:0.3px #4c4c4c;">14</div>
<div class="t" style="left:722.54px;width:20px;text-align:center;top:149px;font-size:8.3px;color:#4c4c4c;-webkit-text-stroke:0.3px #4c4c4c;">T</div>
<div class="t" style="left:722.54px;width:20px;text-align:center;top:165px;font-size:8.3px;color:#4c4c4c;-webkit-text-stroke:0.3px #4c4c4c;">15</div>
<div class="t" style="left:740.35px;width:20px;text-align:center;top:149px;font-size:8.3px;color:#4c4c4c;-webkit-text-stroke:0.3px #4c4c4c;">W</div>
<div class="t" style="left:740.35px;width:20px;text-align:center;top:165px;font-size:8.3px;color:#4c4c4c;-webkit-text-stroke:0.3px #4c4c4c;">16</div>
<div class="t" style="left:758.15px;width:20px;text-align:center;top:149px;font-size:8.3px;color:#4c4c4c;-webkit-text-stroke:0.3px #4c4c4c;">T</div>
<div class="t" style="left:758.15px;width:20px;text-align:center;top:165px;font-size:8.3px;color:#4c4c4c;-webkit-text-stroke:0.3px #4c4c4c;">17</div>
<div class="t" style="left:775.95px;width:20px;text-align:center;top:149px;font-size:8.3px;color:#4c4c4c;-webkit-text-stroke:0.3px #4c4c4c;">F</div>
<div class="t" style="left:775.95px;width:20px;text-align:center;top:165px;font-size:8.3px;color:#4c4c4c;-webkit-text-stroke:0.3px #4c4c4c;">18</div>
<div class="t" style="left:793.75px;width:20px;text-align:center;top:149px;font-size:8.3px;color:#4c4c4c;-webkit-text-stroke:0.3px #4c4c4c;">S</div>
<div class="t" style="left:793.75px;width:20px;text-align:center;top:165px;font-size:8.3px;color:#4c4c4c;-webkit-text-stroke:0.3px #4c4c4c;">19</div>
<div class="t" style="left:811.56px;width:20px;text-align:center;top:149px;font-size:8.3px;color:#4c4c4c;-webkit-text-stroke:0.3px #4c4c4c;">S</div>
<div class="t" style="left:811.56px;width:20px;text-align:center;top:165px;font-size:8.3px;color:#4c4c4c;-webkit-text-stroke:0.3px #4c4c4c;">20</div>
<div class="t" style="left:829.36px;width:20px;text-align:center;top:149px;font-size:8.3px;color:#4c4c4c;-webkit-text-stroke:0.3px #4c4c4c;">M</div>
<div class="t" style="left:829.36px;width:20px;text-align:center;top:165px;font-size:8.3px;color:#4c4c4c;-webkit-text-stroke:0.3px #4c4c4c;">21</div>
<div class="t" style="left:847.16px;width:20px;text-align:center;top:149px;font-size:8.3px;color:#4c4c4c;-webkit-text-stroke:0.3px #4c4c4c;">T</div>
<div class="t" style="left:847.16px;width:20px;text-align:center;top:165px;font-size:8.3px;color:#4c4c4c;-webkit-text-stroke:0.3px #4c4c4c;">22</div>
<div class="t" style="left:864.97px;width:20px;text-align:center;top:149px;font-size:8.3px;color:#4c4c4c;-webkit-text-stroke:0.3px #4c4c4c;">W</div>
<div class="t" style="left:864.97px;width:20px;text-align:center;top:165px;font-size:8.3px;color:#4c4c4c;-webkit-text-stroke:0.3px #4c4c4c;">23</div>
<div class="t" style="left:882.77px;width:20px;text-align:center;top:149px;font-size:8.3px;color:#4c4c4c;-webkit-text-stroke:0.3px #4c4c4c;">T</div>
<div class="t" style="left:882.77px;width:20px;text-align:center;top:165px;font-size:8.3px;color:#4c4c4c;-webkit-text-stroke:0.3px #4c4c4c;">24</div>
<div class="t" style="left:900.57px;width:20px;text-align:center;top:149px;font-size:8.3px;color:#4c4c4c;-webkit-text-stroke:0.3px #4c4c4c;">F</div>
<div class="t" style="left:900.57px;width:20px;text-align:center;top:165px;font-size:8.3px;color:#4c4c4c;-webkit-text-stroke:0.3px #4c4c4c;">25</div>
<div class="t" style="left:918.38px;width:20px;text-align:center;top:149px;font-size:8.3px;color:#4c4c4c;-webkit-text-stroke:0.3px #4c4c4c;">S</div>
<div class="t" style="left:918.38px;width:20px;text-align:center;top:165px;font-size:8.3px;color:#4c4c4c;-webkit-text-stroke:0.3px #4c4c4c;">26</div>
<div class="t" style="left:936.18px;width:20px;text-align:center;top:149px;font-size:8.3px;color:#4c4c4c;-webkit-text-stroke:0.3px #4c4c4c;">S</div>
<div class="t" style="left:936.18px;width:20px;text-align:center;top:165px;font-size:8.3px;color:#4c4c4c;-webkit-text-stroke:0.3px #4c4c4c;">27</div>
<div class="t" style="left:953.98px;width:20px;text-align:center;top:149px;font-size:8.3px;color:#4c4c4c;-webkit-text-stroke:0.3px #4c4c4c;">M</div>
<div class="t" style="left:953.98px;width:20px;text-align:center;top:165px;font-size:8.3px;color:#4c4c4c;-webkit-text-stroke:0.3px #4c4c4c;">28</div>
<div class="t" style="left:971.78px;width:20px;text-align:center;top:149px;font-size:8.3px;color:#4c4c4c;-webkit-text-stroke:0.3px #4c4c4c;">T</div>
<div class="t" style="left:971.78px;width:20px;text-align:center;top:165px;font-size:8.3px;color:#4c4c4c;-webkit-text-stroke:0.3px #4c4c4c;">29</div>
<div class="t" style="left:989.59px;width:20px;text-align:center;top:149px;font-size:8.3px;color:#4c4c4c;-webkit-text-stroke:0.3px #4c4c4c;">W</div>
<div class="t" style="left:989.59px;width:20px;text-align:center;top:165px;font-size:8.3px;color:#4c4c4c;-webkit-text-stroke:0.3px #4c4c4c;">30</div>
<div class="t" style="left:1007.39px;width:20px;text-align:center;top:149px;font-size:8.3px;color:#4c4c4c;-webkit-text-stroke:0.3px #4c4c4c;">T</div>
<div class="t" style="left:1007.39px;width:20px;text-align:center;top:165px;font-size:8.3px;color:#4c4c4c;-webkit-text-stroke:0.3px #4c4c4c;">31</div>
<div class="t" style="top:165px;font-size:8.4px;color:#4c4c4c;letter-spacing:-0.036px;left:240.30px;-webkit-text-stroke:0.35px #4c4c4c;">Name</div>
<div class="t" style="top:165px;font-size:8.4px;color:#4c4c4c;letter-spacing:0.324px;left:340.80px;-webkit-text-stroke:0.35px #4c4c4c;">Department</div>
<div style="left:0;top:180px;width:1026.0px;height:269.10px;overflow:hidden"><div class="t" style="top:12px;font-size:9.8px;color:#444;letter-spacing:0.123px;left:247.00px;-webkit-text-stroke:0.35px #444;">Richard Adam</div><div class="t" style="top:12px;font-size:9.8px;color:#444;letter-spacing:0.353px;left:347.50px;-webkit-text-stroke:0.35px #444;">Distribution</div><div class="t" style="top:39px;font-size:9.8px;color:#444;letter-spacing:0.163px;left:247.00px;-webkit-text-stroke:0.35px #444;">Amanda Adamms</div><div class="t" style="top:39px;font-size:9.8px;color:#444;letter-spacing:0.353px;left:347.50px;-webkit-text-stroke:0.35px #444;">Distribution</div><div class="t" style="top:66px;font-size:9.8px;color:#444;letter-spacing:0.288px;left:247.00px;-webkit-text-stroke:0.35px #444;">Tony Adcock</div><div class="t" style="top:66px;font-size:9.8px;color:#444;letter-spacing:-0.279px;left:347.50px;-webkit-text-stroke:0.35px #444;">Sales</div><div class="t" style="top:94px;font-size:9.8px;color:#444;letter-spacing:0.151px;left:247.00px;-webkit-text-stroke:0.35px #444;">Linda Airey</div><div class="t" style="top:94px;font-size:9.8px;color:#444;letter-spacing:0.112px;left:347.50px;-webkit-text-stroke:0.35px #444;">Management Information...</div><div class="t" style="top:121px;font-size:9.8px;color:#444;letter-spacing:0.222px;left:247.00px;-webkit-text-stroke:0.35px #444;">Elizabeth Alberici</div><div class="t" style="top:121px;font-size:9.8px;color:#444;letter-spacing:-0.040px;left:347.50px;-webkit-text-stroke:0.35px #444;">Human Resources</div><div class="t" style="top:149px;font-size:9.8px;color:#444;letter-spacing:0.224px;left:247.00px;-webkit-text-stroke:0.35px #444;">Andrew Anderson</div><div class="t" style="top:149px;font-size:9.8px;color:#444;letter-spacing:-0.040px;left:347.50px;-webkit-text-stroke:0.35px #444;">Human Resources</div><div class="t" style="top:176px;font-size:9.8px;color:#444;letter-spacing:0.216px;left:247.00px;-webkit-text-stroke:0.35px #444;">Mary Anderson</div><div class="t" style="top:176px;font-size:9.8px;color:#444;letter-spacing:0.239px;left:347.50px;-webkit-text-stroke:0.35px #444;">Education</div><div class="t" style="top:204px;font-size:9.8px;color:#444;letter-spacing:0.298px;left:247.00px;-webkit-text-stroke:0.35px #444;">Richard Andretti</div><div class="t" style="top:204px;font-size:9.8px;color:#444;letter-spacing:-0.098px;left:347.50px;-webkit-text-stroke:0.35px #444;">Data Programming and S...</div><div class="t" style="top:231px;font-size:9.8px;color:#444;letter-spacing:0.147px;left:247.00px;-webkit-text-stroke:0.35px #444;">George Archer</div><div class="t" style="top:231px;font-size:9.8px;color:#444;letter-spacing:0.239px;left:347.50px;-webkit-text-stroke:0.35px #444;">Education</div><div class="t" style="top:258px;font-size:9.8px;color:#444;letter-spacing:0.122px;left:247.00px;-webkit-text-stroke:0.35px #444;">Dave Artuso</div><div class="t" style="top:258px;font-size:9.8px;color:#444;letter-spacing:0.196px;left:347.50px;-webkit-text-stroke:0.35px #444;">Marketing</div></div>
<div class="t" style="left:299.60px;width:40px;text-align:center;top:466px;font-size:9.8px;color:#6e6e6e;">2</div>
<div class="t" style="left:322.20px;width:40px;text-align:center;top:466px;font-size:9.8px;color:#6e6e6e;">3</div>
<div class="t" style="left:345.10px;width:40px;text-align:center;top:466px;font-size:9.8px;color:#6e6e6e;">4</div>
<div class="t" style="left:367.90px;width:40px;text-align:center;top:466px;font-size:9.8px;color:#6e6e6e;">5</div>
<div class="t" style="left:390.30px;width:40px;text-align:center;top:466px;font-size:9.8px;color:#6e6e6e;">6</div>
<div class="t" style="left:413.40px;width:40px;text-align:center;top:466px;font-size:9.8px;color:#6e6e6e;">7</div>
<div class="t" style="left:436.10px;width:40px;text-align:center;top:466px;font-size:9.8px;color:#6e6e6e;">8</div>
<div class="t" style="left:458.80px;width:40px;text-align:center;top:466px;font-size:9.8px;color:#6e6e6e;">9</div>
<div class="t" style="left:481.70px;width:40px;text-align:center;top:466px;font-size:9.8px;color:#6e6e6e;">10</div>
<div class="t" style="left:504.30px;width:40px;text-align:center;top:466px;font-size:9.8px;color:#777;">...</div>
<div class="t" style="top:466px;font-size:9.8px;color:#3a3a3a;letter-spacing:0.399px;left:591.60px;">20</div>
<div class="t" style="top:466px;font-size:9.8px;color:#444;letter-spacing:0.013px;left:639.50px;">items per page</div>
<div class="t" style="top:466px;font-size:9.8px;color:#444;letter-spacing:-0.087px;left:942.60px;">1 - 20 of 516 items</div>
<div class="t" style="top:508px;font-size:9.8px;color:#fff;letter-spacing:-0.092px;left:260.30px;-webkit-text-stroke:0.2px #fff;">Public Holiday</div>
<div class="t" style="top:508px;font-size:9.8px;color:#f4f4f4;letter-spacing:-0.165px;left:342.70px;-webkit-text-stroke:0.2px #f4f4f4;">Non Working Day</div>
<div class="t" style="top:508px;font-size:9.8px;color:#fff;letter-spacing:-0.046px;left:438.20px;-webkit-text-stroke:0.2px #fff;">Date Left</div>
<div class="t" style="top:508px;font-size:9.8px;color:#fff;letter-spacing:0.044px;left:498.80px;-webkit-text-stroke:0.2px #fff;">Awaiting Verification</div>
<div class="t" style="top:508px;font-size:9.8px;color:#fff;letter-spacing:-0.006px;left:608.90px;-webkit-text-stroke:0.2px #fff;">Absence</div>
</body></html>
